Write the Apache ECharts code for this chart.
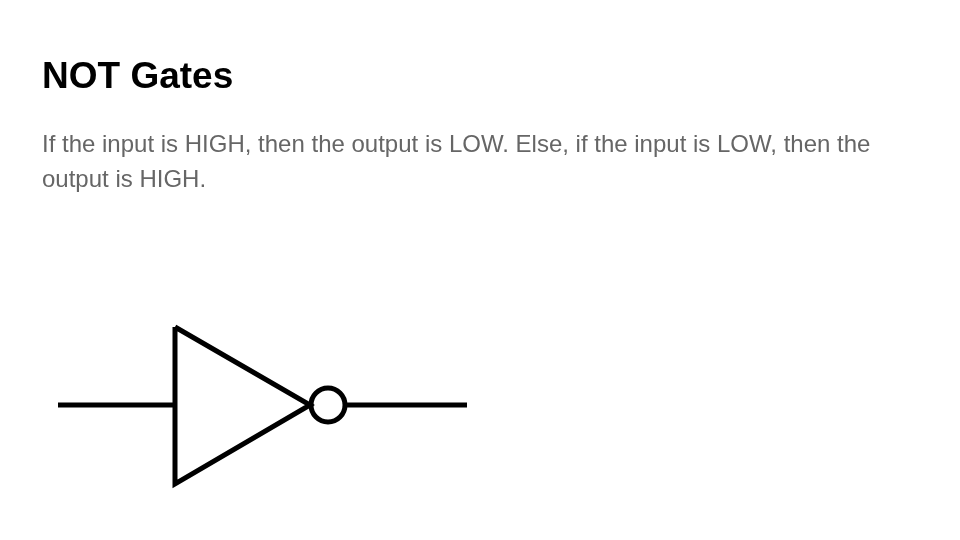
<!DOCTYPE html>
<html><head><meta charset="utf-8">
<script src="https://cdn.jsdelivr.net/npm/echarts@6/dist/echarts.min.js"></script>
<style>html,body{margin:0;padding:0;background:#fff}#c{width:960px;height:540px}</style>
</head><body><div id="c"></div>
<script>
var titleText = "NOT Gates";
var bodyLines = ["If the input is HIGH, then the output is LOW. Else, if the input is LOW, then the", "output is HIGH."];
var inputWire = [[58,405],[175,405]];
var triangle = [[175,327],[175,484],[310,405],[175,327]];
var bubble = [[328,405]];
var outputWire = [[347,405],[467,405]];
var chart = echarts.init(document.getElementById('c'));
var lineStyle = {color:'#000', width:5, join:'miter'};
function wire(d){return {type:'line', data:d, symbol:'none', lineStyle:lineStyle, silent:true, animation:false};}
chart.setOption({
  backgroundColor:'#fff',
  title:[
    {text:titleText, left:37, top:54, textStyle:{fontFamily:'Liberation Sans', fontSize:37, fontWeight:'bold', color:'#000'}},
    {text:bodyLines.join('\n'), left:37, top:123, textStyle:{fontFamily:'Liberation Sans', fontSize:24, fontWeight:'normal', color:'#666666', lineHeight:35}}
  ],
  grid:{left:0,right:0,top:0,bottom:0},
  xAxis:{type:'value', min:0, max:960, show:false},
  yAxis:{type:'value', min:0, max:540, inverse:true, show:false},
  series:[
    wire(inputWire), wire(triangle), wire(outputWire),
    {type:'scatter', data:bubble, symbol:'circle', symbolSize:34, itemStyle:{color:'#fff', borderColor:'#000', borderWidth:5, opacity:1}, silent:true, animation:false}
  ]
});
</script></body></html>
